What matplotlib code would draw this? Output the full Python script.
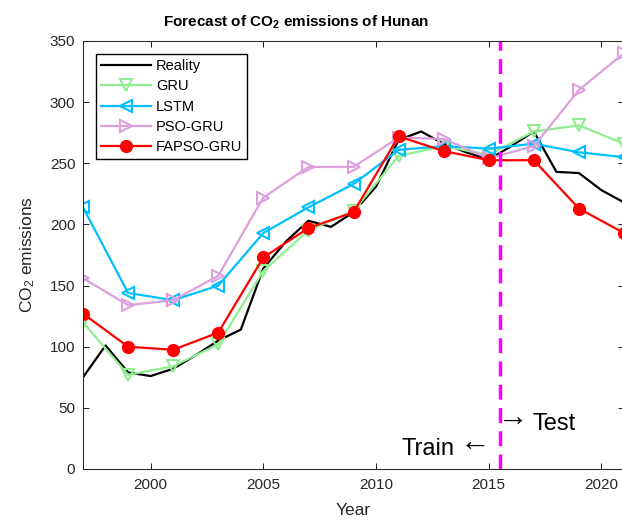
import matplotlib
matplotlib.use("Agg")
import matplotlib.pyplot as plt
import numpy as np

plt.rcParams['font.family'] = ['Liberation Sans', 'DejaVu Sans']
plt.rcParams['mathtext.fontset'] = 'custom'
plt.rcParams['mathtext.rm'] = 'Liberation Sans'
plt.rcParams['mathtext.it'] = 'Liberation Sans:italic'
plt.rcParams['mathtext.bf'] = 'Liberation Sans:bold'
plt.rcParams['mathtext.default'] = 'regular'

# Observed emissions, yearly
years_real = list(range(1997, 2022))
reality = [75, 101, 79, 76, 82, 93, 105, 114, 164, 186, 203, 198, 210, 231,
           269, 276, 266, 259, 253, 264, 276, 243, 242, 228, 218]

# Model outputs, every second year
years_model = list(range(1997, 2022, 2))
gru = [120, 77, 84, 102, 162, 195, 211, 256, 264, 257, 276, 281, 266]
lstm = [214, 144, 138, 150, 193, 214, 233, 261, 264, 262, 266, 259, 255]
pso_gru = [156, 134, 138, 158, 222, 247, 247, 271, 270, 254, 264, 310, 340]
fapso_gru = [127, 100, 97.5, 111.5, 173, 197, 210, 272, 260, 252.5, 252.5, 213, 193]

split_year = 2015.5
x_ticks = [2000, 2005, 2010, 2015, 2020]
y_ticks = [0, 50, 100, 150, 200, 250, 300, 350]

W, H = 622, 521
fig = plt.figure(figsize=(W / 100, H / 100), dpi=100)
ax = fig.add_axes([83 / W, (H - 469) / H, 541 / W, 428 / H])

lw = 1.6
ax.plot(years_real, reality, color='black', lw=lw, label='Reality')
ax.plot(years_model, gru, color='#90EE90', lw=lw, marker='v', ms=9,
        mfc='none', mew=1.5, label='GRU')
ax.plot(years_model, lstm, color='#00BFFF', lw=lw, marker='<', ms=9,
        mfc='none', mew=1.5, label='LSTM')
ax.plot(years_model, pso_gru, color='#DDA0DD', lw=lw, marker='>', ms=9,
        mfc='none', mew=1.5, label='PSO-GRU')
ax.plot(years_model, fapso_gru, color='red', lw=lw, marker='o', ms=8,
        mfc='red', mew=1.5, label='FAPSO-GRU')

ax.axvline(split_year, color='magenta', lw=2.5, linestyle=(0, (4.3, 2.4)))

# Train / Test annotations on either side of the split
ax.text(2013.46, 16.5, 'Train', ha='right', va='center', fontsize=17)
ax.text(2014.88, 22.5, r'$\leftarrow$', ha='right', va='center',
        fontsize=22, math_fontfamily='cm')
ax.text(2015.15, 42.5, r'$\rightarrow$', ha='left', va='center',
        fontsize=22, math_fontfamily='cm')
ax.text(2016.92, 37, 'Test', ha='left', va='center', fontsize=17)

ax.set_xlim(1997, 2021)
ax.set_ylim(0, 350)
ax.set_xticks(x_ticks)
ax.set_yticks(y_ticks)

edge = '#262626'
for s in ax.spines.values():
    s.set_color(edge)
    s.set_linewidth(0.75)
ax.tick_params(direction='in', length=4, width=0.75, color=edge,
               labelcolor=edge, labelsize=11, top=True, right=True)
ax.tick_params(axis='x', pad=6.5)
ax.tick_params(axis='y', pad=5.5)

ax.set_xlabel('Year', fontsize=12.5, color=edge, labelpad=8)
ax.set_ylabel(r'CO$_2$ emissions', fontsize=12.5, color=edge, labelpad=9)

fig.text(296 / W, 1 - 27 / H, r'Forecast of CO$\mathbf{_2}$ emissions of Hunan',
         ha='center', va='baseline', fontsize=11, fontweight='bold')

leg = ax.legend(loc='upper left', bbox_to_anchor=(13 / 541, 1 - 13 / 428),
                borderaxespad=0, fontsize=10.5, handlelength=3.4,
                handletextpad=0.35, labelspacing=0.43, borderpad=0.35,
                fancybox=False, framealpha=1, edgecolor='black')
leg.get_frame().set_linewidth(1.0)

fig.savefig('out.png', dpi=100)
